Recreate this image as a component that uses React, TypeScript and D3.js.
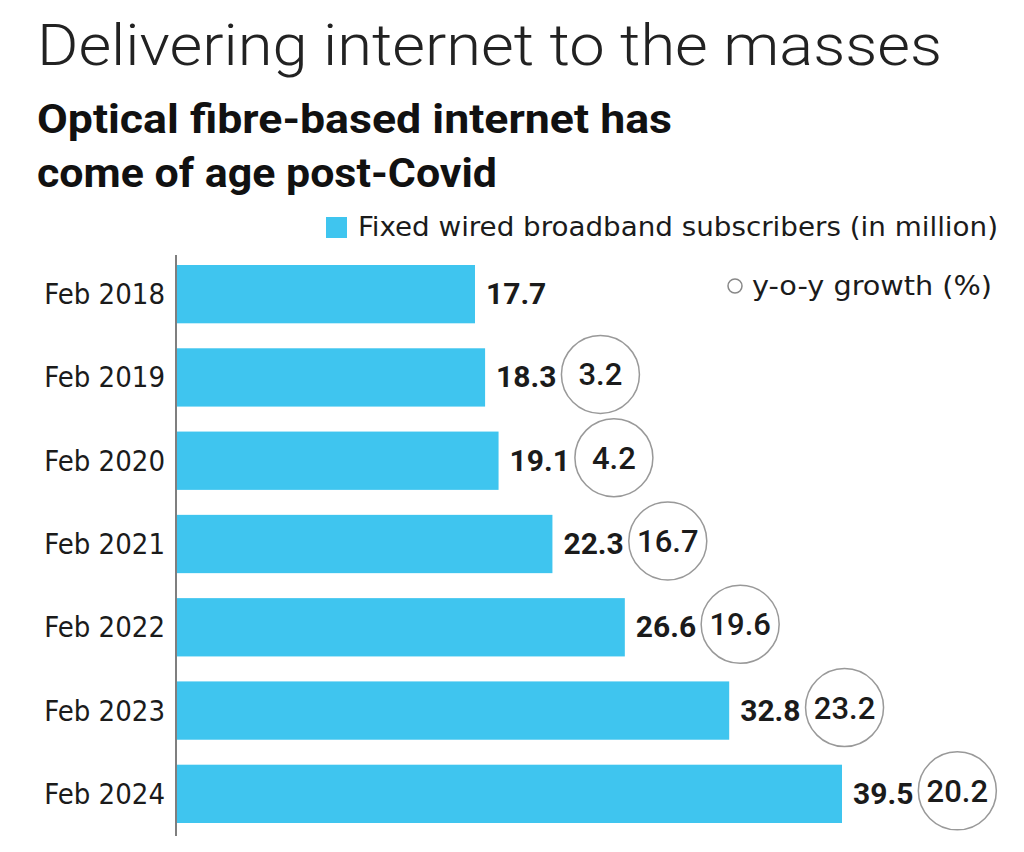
import React, { useEffect, useRef } from 'react';
import * as d3 from 'd3';

const periods = ['Feb 2018', 'Feb 2019', 'Feb 2020', 'Feb 2021', 'Feb 2022', 'Feb 2023', 'Feb 2024'];
const subscribers = [17.7, 18.3, 19.1, 22.3, 26.6, 32.8, 39.5];
const growth: (number | null)[] = [null, 3.2, 4.2, 16.7, 19.6, 23.2, 20.2];

const title = 'Delivering internet to the masses';
const subtitleLines = ['Optical fibre-based internet has', 'come of age post-Covid'];
const subtitleWidths = [635, 460];
const legendBar = 'Fixed wired broadband subscribers (in million)';
const legendCircle = 'y-o-y growth (%)';

const BAR = '#3fc5ef';
const INK = '#1b1b1b';
const COND = "'DejaVu Sans Condensed', 'Liberation Sans Narrow', Roboto, sans-serif";

const App: React.FC = () => {
  const svgRef = useRef<SVGSVGElement | null>(null);

  useEffect(() => {
    if (!svgRef.current) return;
    const svg = d3.select(svgRef.current);
    svg.selectAll('*').remove();

    const width = 1024;
    const height = 852;
    svg.attr('width', width).attr('height', height);
    svg.append('rect').attr('width', width).attr('height', height).attr('fill', '#fff');

    // Titles
    svg.append('text')
      .attr('x', 37).attr('y', 65)
      .attr('font-family', 'Roboto, sans-serif')
      .attr('font-weight', 300)
      .attr('font-size', 57)
      .attr('textLength', 905)
      .attr('lengthAdjust', 'spacingAndGlyphs')
      .attr('fill', '#222')
      .text(title);

    svg.selectAll('.sub')
      .data(subtitleLines)
      .enter()
      .append('text')
      .attr('class', 'sub')
      .attr('x', 37)
      .attr('y', (_, i) => 133 + i * 54)
      .attr('font-family', 'Roboto, sans-serif')
      .attr('font-weight', 700)
      .attr('font-size', 40)
      .attr('textLength', (_, i) => subtitleWidths[i])
      .attr('lengthAdjust', 'spacingAndGlyphs')
      .attr('fill', '#111')
      .text(d => d);

    // Legend
    svg.append('rect')
      .attr('x', 326).attr('y', 217).attr('width', 21).attr('height', 21)
      .attr('fill', BAR);
    svg.append('text')
      .attr('x', 358).attr('y', 236)
      .attr('font-family', COND)
      .attr('font-size', 26)
      .attr('textLength', 640)
      .attr('lengthAdjust', 'spacingAndGlyphs')
      .attr('fill', INK)
      .text(legendBar);
    svg.append('circle')
      .attr('cx', 735).attr('cy', 286).attr('r', 7)
      .attr('fill', 'none').attr('stroke', '#888').attr('stroke-width', 1.5);
    svg.append('text')
      .attr('x', 752).attr('y', 295)
      .attr('font-family', COND)
      .attr('font-size', 26)
      .attr('textLength', 240)
      .attr('lengthAdjust', 'spacingAndGlyphs')
      .attr('fill', INK)
      .text(legendCircle);

    // Scales
    const xScale = d3.scaleLinear().domain([0, 39.5]).range([177, 842]);
    const yScale = d3.scaleBand<string>()
      .domain(periods)
      .range([265, 823])
      .paddingInner(0.3)
      .paddingOuter(0);

    const rows = periods.map((p, i) => ({ p, v: subscribers[i], g: growth[i] }));

    // Bars
    svg.selectAll('.bar')
      .data(rows)
      .enter()
      .append('rect')
      .attr('class', 'bar')
      .attr('x', xScale(0))
      .attr('y', d => yScale(d.p) || 0)
      .attr('width', d => xScale(d.v) - xScale(0))
      .attr('height', yScale.bandwidth())
      .attr('fill', BAR);

    // Axis line
    svg.append('line')
      .attr('x1', xScale(0) - 1).attr('x2', xScale(0) - 1)
      .attr('y1', 255).attr('y2', 836)
      .attr('stroke', '#555').attr('stroke-width', 1.5);

    // Category labels
    svg.selectAll('.cat')
      .data(rows)
      .enter()
      .append('text')
      .attr('class', 'cat')
      .attr('x', 165)
      .attr('y', d => (yScale(d.p) || 0) + yScale.bandwidth() / 2 + 10)
      .attr('text-anchor', 'end')
      .attr('font-family', COND)
      .attr('font-size', 29)
      .attr('fill', INK)
      .text(d => d.p);

    // Value labels and growth circles
    const r = 39;
    rows.forEach(d => {
      const cy = (yScale(d.p) || 0) + yScale.bandwidth() / 2;
      const lx = xScale(d.v) + 11;
      const label = svg.append('text')
        .attr('x', lx)
        .attr('y', cy + 10)
        .attr('font-family', 'Roboto, sans-serif')
        .attr('font-weight', 700)
        .attr('font-size', 30)
        .attr('fill', INK)
        .text(d.v.toFixed(1));
      if (d.g === null) return;
      const w = (label.node() as SVGTextElement).getComputedTextLength();
      const cx = lx + w + 5 + r;
      svg.append('circle')
        .attr('cx', cx).attr('cy', cy - 3).attr('r', r)
        .attr('fill', '#fff').attr('stroke', '#999').attr('stroke-width', 1.5);
      svg.append('text')
        .attr('x', cx)
        .attr('y', cy + 8)
        .attr('text-anchor', 'middle')
        .attr('font-family', 'Roboto, sans-serif')
        .attr('font-weight', 500)
        .attr('font-size', 31)
        .attr('fill', INK)
        .text(d.g.toFixed(1));
    });
  }, []);

  return <svg ref={svgRef} style={{ position: 'absolute', left: 0, top: 0 }} />;
};

export default App;
